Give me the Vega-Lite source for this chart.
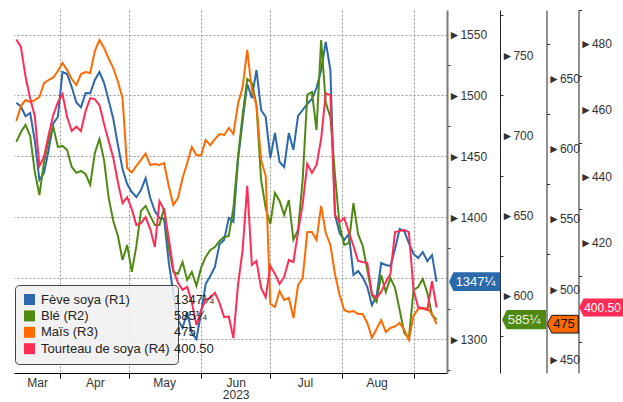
{
  "$schema": "https://vega.github.io/schema/vega-lite/v6.json",
  "width": 433,
  "height": 363,
  "autosize": {"type": "none"},
  "padding": {"left": 14, "top": 10, "right": 176, "bottom": 29},
  "background": "white",
  "config": {"view": {"stroke": null}},
  "datasets": {
    "prices": [
      {"d":"2023-03-13","soy":1494,"ble":696.0,"mais":619.9,"tourteau":481.1},
      {"d":"2023-03-15","soy":1491,"ble":702.2,"mais":630.5,"tourteau":478.9},
      {"d":"2023-03-17","soy":1483,"ble":706.6,"mais":634.8,"tourteau":469.9},
      {"d":"2023-03-19","soy":1485.6,"ble":699.7,"mais":633.4,"tourteau":463.4},
      {"d":"2023-03-21","soy":1462.9,"ble":677.3,"mais":634.8,"tourteau":458.1},
      {"d":"2023-03-23","soy":1430.7,"ble":662.9,"mais":637.0,"tourteau":443.1},
      {"d":"2023-03-25","soy":1436.6,"ble":683.5,"mais":646.9,"tourteau":445.8},
      {"d":"2023-03-27","soy":1455.3,"ble":697.2,"mais":649.1,"tourteau":452.4},
      {"d":"2023-03-29","soy":1477.0,"ble":705.3,"mais":650.9,"tourteau":458.4},
      {"d":"2023-03-31","soy":1482.5,"ble":692.9,"mais":655.5,"tourteau":462.3},
      {"d":"2023-04-02","soy":1519.2,"ble":693.5,"mais":661.2,"tourteau":464.7},
      {"d":"2023-04-04","soy":1517.6,"ble":691.0,"mais":656.2,"tourteau":457.8},
      {"d":"2023-04-06","soy":1506.9,"ble":680.4,"mais":649.8,"tourteau":453.6},
      {"d":"2023-04-08","soy":1494.2,"ble":676.7,"mais":645.5,"tourteau":454.9},
      {"d":"2023-04-10","soy":1490.2,"ble":677.9,"mais":653.3,"tourteau":453.6},
      {"d":"2023-04-12","soy":1502.0,"ble":676.0,"mais":654.8,"tourteau":459.6},
      {"d":"2023-04-14","soy":1501.8,"ble":669.2,"mais":654.1,"tourteau":463.5},
      {"d":"2023-04-16","soy":1512.7,"ble":689.1,"mais":669.7,"tourteau":463.2},
      {"d":"2023-04-18","soy":1519.2,"ble":697.8,"mais":677.6,"tourteau":461.4},
      {"d":"2023-04-20","soy":1510.4,"ble":684.7,"mais":671.9,"tourteau":455.7},
      {"d":"2023-04-22","soy":1495.8,"ble":661.1,"mais":664.4,"tourteau":450.6},
      {"d":"2023-04-24","soy":1480.7,"ble":646.7,"mais":657.6,"tourteau":445.5},
      {"d":"2023-04-26","soy":1459.4,"ble":637.4,"mais":648.0,"tourteau":438.2},
      {"d":"2023-04-28","soy":1439.7,"ble":622.4,"mais":636.2,"tourteau":431.9},
      {"d":"2023-04-30","soy":1427.4,"ble":631.8,"mais":586.3,"tourteau":433.7},
      {"d":"2023-05-02","soy":1420.8,"ble":615.0,"mais":583.1,"tourteau":430.1},
      {"d":"2023-05-04","soy":1416.7,"ble":631.2,"mais":587.8,"tourteau":425.3},
      {"d":"2023-05-06","soy":1422.5,"ble":653.0,"mais":592.1,"tourteau":425.9},
      {"d":"2023-05-08","soy":1432.3,"ble":656.1,"mais":596.7,"tourteau":427.7},
      {"d":"2023-05-10","soy":1415.9,"ble":649.9,"mais":588.5,"tourteau":424.1},
      {"d":"2023-05-12","soy":1405.2,"ble":644.2,"mais":589.2,"tourteau":418.7},
      {"d":"2023-05-14","soy":1399.5,"ble":644.2,"mais":588.5,"tourteau":432.5},
      {"d":"2023-05-16","soy":1398.7,"ble":654.8,"mais":589.9,"tourteau":429.8},
      {"d":"2023-05-18","soy":1363.4,"ble":630.5,"mais":573.5,"tourteau":421.4},
      {"d":"2023-05-20","soy":1338.0,"ble":615.0,"mais":560.0,"tourteau":411.8},
      {"d":"2023-05-22","soy":1315.8,"ble":613.7,"mais":565.0,"tourteau":407.9},
      {"d":"2023-05-24","soy":1309.3,"ble":621.2,"mais":579.2,"tourteau":405.8},
      {"d":"2023-05-26","soy":1322.4,"ble":610.0,"mais":589.9,"tourteau":406.7},
      {"d":"2023-05-28","soy":1305.2,"ble":615.0,"mais":601.3,"tourteau":402.1},
      {"d":"2023-05-30","soy":1300.3,"ble":606.2,"mais":595.6,"tourteau":395.2},
      {"d":"2023-06-01","soy":1321.6,"ble":617.5,"mais":595.2,"tourteau":399.7},
      {"d":"2023-06-03","soy":1345.4,"ble":624.3,"mais":606.3,"tourteau":402.8},
      {"d":"2023-06-05","soy":1351.9,"ble":628.7,"mais":602.7,"tourteau":403.4},
      {"d":"2023-06-07","soy":1359.3,"ble":630.5,"mais":607.0,"tourteau":404.9},
      {"d":"2023-06-09","soy":1378.2,"ble":634.3,"mais":610.6,"tourteau":401.9},
      {"d":"2023-06-11","soy":1381.5,"ble":636.8,"mais":609.9,"tourteau":397.6},
      {"d":"2023-06-13","soy":1399.5,"ble":637.4,"mais":614.9,"tourteau":397.8},
      {"d":"2023-06-15","soy":1396.2,"ble":654.8,"mais":610.6,"tourteau":391.3},
      {"d":"2023-06-17","soy":1447.1,"ble":686.6,"mais":632.0,"tourteau":407.3},
      {"d":"2023-06-19","soy":1479.1,"ble":712.8,"mais":644.1,"tourteau":417.8},
      {"d":"2023-06-21","soy":1509.4,"ble":735.2,"mais":670.5,"tourteau":437.1},
      {"d":"2023-06-23","soy":1497.9,"ble":732.7,"mais":641.9,"tourteau":413.3},
      {"d":"2023-06-25","soy":1520.9,"ble":719.0,"mais":631.3,"tourteau":414.5},
      {"d":"2023-06-27","soy":1488.1,"ble":672.3,"mais":592.1,"tourteau":406.4},
      {"d":"2023-06-29","soy":1482.3,"ble":654.8,"mais":580.6,"tourteau":403.6},
      {"d":"2023-07-01","soy":1448.7,"ble":644.9,"mais":489.4,"tourteau":413.0},
      {"d":"2023-07-03","soy":1469.2,"ble":664.2,"mais":487.3,"tourteau":410.6},
      {"d":"2023-07-05","soy":1445.4,"ble":659.2,"mais":498.7,"tourteau":407.6},
      {"d":"2023-07-07","soy":1441.3,"ble":650.5,"mais":492.3,"tourteau":409.7},
      {"d":"2023-07-09","soy":1469.2,"ble":659.8,"mais":493.7,"tourteau":414.8},
      {"d":"2023-07-11","soy":1455.3,"ble":634.9,"mais":479.4,"tourteau":414.2},
      {"d":"2023-07-13","soy":1483.2,"ble":641.1,"mais":502.9,"tourteau":423.2},
      {"d":"2023-07-15","soy":1488.1,"ble":672.3,"mais":507.9,"tourteau":431.6},
      {"d":"2023-07-17","soy":1493.0,"ble":725.3,"mais":540.7,"tourteau":443.7},
      {"d":"2023-07-19","soy":1497.1,"ble":727.1,"mais":540.7,"tourteau":441.0},
      {"d":"2023-07-21","soy":1506.1,"ble":703.4,"mais":535.0,"tourteau":443.4},
      {"d":"2023-07-23","soy":1520.9,"ble":759.5,"mais":559.3,"tourteau":451.2},
      {"d":"2023-07-25","soy":1543.9,"ble":720.3,"mais":540.0,"tourteau":465.0},
      {"d":"2023-07-27","soy":1520.9,"ble":711.5,"mais":531.5,"tourteau":464.4},
      {"d":"2023-07-29","soy":1402.0,"ble":675.4,"mais":510.8,"tourteau":428.3},
      {"d":"2023-07-31","soy":1387.2,"ble":643.6,"mais":495.8,"tourteau":426.2},
      {"d":"2023-08-02","soy":1381.5,"ble":631.8,"mais":485.1,"tourteau":427.4},
      {"d":"2023-08-04","soy":1386.4,"ble":633.0,"mais":483.7,"tourteau":423.2},
      {"d":"2023-08-06","soy":1352.7,"ble":657.9,"mais":484.4,"tourteau":419.0},
      {"d":"2023-08-08","soy":1356.0,"ble":638.6,"mais":482.3,"tourteau":414.5},
      {"d":"2023-08-10","soy":1351.1,"ble":631.2,"mais":482.3,"tourteau":414.2},
      {"d":"2023-08-12","soy":1342.9,"ble":616.2,"mais":475.9,"tourteau":413.9},
      {"d":"2023-08-14","soy":1328.1,"ble":600.6,"mais":465.2,"tourteau":404.6},
      {"d":"2023-08-16","soy":1335.5,"ble":596.3,"mais":471.6,"tourteau":403.4},
      {"d":"2023-08-18","soy":1362.6,"ble":613.1,"mais":478.0,"tourteau":405.2},
      {"d":"2023-08-20","soy":1361.0,"ble":602.5,"mais":469.4,"tourteau":408.2},
      {"d":"2023-08-22","soy":1360.1,"ble":611.2,"mais":472.3,"tourteau":410.6},
      {"d":"2023-08-24","soy":1374.1,"ble":605.0,"mais":473.4,"tourteau":423.2},
      {"d":"2023-08-26","soy":1390.5,"ble":591.3,"mais":475.9,"tourteau":423.5},
      {"d":"2023-08-28","soy":1388.8,"ble":576.9,"mais":470.9,"tourteau":423.8},
      {"d":"2023-08-30","soy":1379.0,"ble":573.8,"mais":463.8,"tourteau":423.2},
      {"d":"2023-09-01","soy":1370.0,"ble":603.7,"mais":480.9,"tourteau":405.8},
      {"d":"2023-09-03","soy":1366.7,"ble":605.6,"mais":485.8,"tourteau":400.6},
      {"d":"2023-09-05","soy":1371.6,"ble":610.6,"mais":486.3,"tourteau":400.3},
      {"d":"2023-09-07","soy":1364.2,"ble":601.9,"mais":486.2,"tourteau":399.7},
      {"d":"2023-09-09","soy":1369.1,"ble":588.2,"mais":482.3,"tourteau":408.4},
      {"d":"2023-09-11","soy":1347.25,"ble":585.25,"mais":475,"tourteau":400.5}
    ],
    "tags": [
      {"name":"Fève soya (R1)","t":"1347¼","soy":1347.25},
      {"name":"Blé (R2)","t":"585¼","ble":585.25},
      {"name":"Maïs (R3)","t":"475","mais":475},
      {"name":"Tourteau de soya (R4)","t":"400.50","tourteau":400.5}
    ]
  },
  "encoding": {
    "x": {
      "field": "d", "type": "temporal", "title": null,
      "scale": {"domain": [{"year":2023,"month":3,"date":12},{"year":2023,"month":9,"date":15,"hours":12}]},
      "axis": {
        "values": [{"year":2023,"month":3,"date":22},{"year":2023,"month":4,"date":1},{"year":2023,"month":4,"date":16},{"year":2023,"month":5,"date":1},{"year":2023,"month":5,"date":16},{"year":2023,"month":6,"date":1},{"year":2023,"month":6,"date":16},{"year":2023,"month":7,"date":1},{"year":2023,"month":7,"date":16},{"year":2023,"month":8,"date":1},{"year":2023,"month":8,"date":16},{"year":2023,"month":9,"date":1}],
        "grid": true, "gridColor": "#999", "gridDash": [2, 2], "gridWidth": 1,
        "gridOpacity": {"condition": {"test": "date(datum.value) == 1", "value": 1}, "value": 0},
        "tickOpacity": {"condition": {"test": "date(datum.value) == 1", "value": 1}, "value": 0},
        "tickColor": "#000", "tickSize": 5, "domainColor": "#000",
        "labelExpr": "date(datum.value) == 1 ? '' : (month(datum.value) == 5 ? ['Jun', '2023'] : timeFormat(datum.value, '%b'))",
        "labelFont": "Liberation Sans", "labelFontSize": 12, "labelColor": "#333",
        "labelOverlap": false, "labelFlush": false, "labelPadding": -1, "labelLineHeight": 12.5
      }
    }
  },
  "layer": [
    {
      "encoding": {
        "y": {"field": "soy", "type": "quantitative", "title": null,
          "scale": {"domain": [1272.4, 1570.1], "nice": false, "zero": false},
          "axis": {"orient": "right", "offset": 0, "values": [1275,1300,1325,1350,1375,1400,1425,1450,1475,1500,1525,1550],
            "format": "d", "grid": true, "gridColor": "#999", "gridDash": [2, 2],
            "gridOpacity": {"condition": {"test": "datum.value % 50 == 0", "value": 1}, "value": 0},
            "domainColor": "#7a7a7a", "domainWidth": 2, "tickColor": "#333", "tickSize": 3,
            "tickOpacity": {"condition": {"test": "datum.value % 50 == 0", "value": 0}, "value": 1},
            "labelExpr": "datum.value % 50 == 0 && datum.value != 1350 ? '►' + datum.label : ''",
            "labelPadding": -2, "labelFont": "Liberation Sans", "labelFontSize": 12, "labelColor": "#333",
            "labelOverlap": false, "labelFlush": false}
        }
      },
      "layer": [
        {
          "data": {"name": "prices"},
          "mark": {"type": "line", "color": "#2c69ac", "strokeWidth": 2}
        },
        {
          "data": {"name": "tags"},
          "transform": [{"filter": "isValid(datum.soy)"}],
          "mark": {"type": "point", "filled": true, "opacity": 1, "size": 2632, "xOffset": 27.7, "strokeWidth": 0},
          "encoding": {
            "x": {"value": "width"},
            "color": {"field": "name", "type": "nominal",
              "scale": {"domain": ["Fève soya (R1)", "Blé (R2)", "Maïs (R3)", "Tourteau de soya (R4)"], "range": ["#2c69ac", "#4e8a12", "#ff6a00", "#ff2d55"]},
              "legend": {"orient": "none", "legendX": 1, "legendY": 275, "title": null, "symbolType": "square", "symbolSize": 121, "symbolStrokeWidth": 0,
                "labelFont": "Liberation Sans", "labelFontSize": 13, "labelColor": "#222", "labelOffset": 5, "labelLimit": 400,
                "padding": 8, "rowPadding": 2.4, "fillColor": "rgba(240,240,240,0.85)", "strokeColor": "#444", "cornerRadius": 4, "zindex": 1,
                "labelExpr": "datum.label == 'Tourteau de soya (R4)' ? datum.label + '\u00a0\u00a0\u00a0\u00a0\u00a0\u00a0\u00a0\u00a0\u00a0\u00a0\u00a0' : datum.label"}
            },
            "shape": {"field": "t", "type": "nominal",
              "scale": {"domain": ["1347¼", "585¼", "475", "400.50"],
                "range": ["M-1,0L-0.832,-0.365L1,-0.365L1,0.365L-0.832,0.365Z", "M-1,0L-0.786,-0.439L1,-0.439L1,0.439L-0.786,0.439Z", "M-1,0L-0.71,-0.571L1,-0.571L1,0.571L-0.71,0.571Z", "M-1,0L-0.8125,-0.375L1,-0.375L1,0.375L-0.8125,0.375Z"]},
              "legend": {"orient": "none", "legendX": 134, "legendY": 275, "title": null, "symbolOpacity": 0, "symbolStrokeWidth": 0, "symbolSize": 121,
                "labelFont": "Liberation Sans", "labelFontSize": 13, "labelColor": "#222", "labelOffset": 5, "labelLimit": 200,
                "padding": 8, "rowPadding": 2.4, "zindex": 2}
            }
          }
        },
        {
          "data": {"name": "tags"},
          "transform": [{"filter": "isValid(datum.soy)"}],
          "mark": {"type": "text", "xOffset": 28.5, "font": "Liberation Sans", "fontSize": 13, "color": "#ffffff", "align": "center", "baseline": "middle"},
          "encoding": {"x": {"value": "width"}, "text": {"field": "t"}}
        }
      ]
    },
    {
      "encoding": {
        "y": {"field": "ble", "type": "quantitative", "title": null,
          "scale": {"domain": [552.0, 778.2], "nice": false, "zero": false},
          "axis": {"orient": "right", "offset": 53, "values": [575,600,625,650,675,700,725,750,775], "format": "d", "grid": false,
            "domainColor": "#222", "domainWidth": 1, "tickColor": "#333", "tickSize": 3,
            "tickOpacity": {"condition": {"test": "datum.value % 50 == 0", "value": 0}, "value": 1},
            "labelExpr": "datum.value % 50 == 0 ? '►' + datum.label : ''",
            "labelPadding": -2, "labelFont": "Liberation Sans", "labelFontSize": 12, "labelColor": "#333",
            "labelOverlap": false, "labelFlush": false}
        }
      },
      "layer": [
        {
          "data": {"name": "prices"},
          "mark": {"type": "line", "color": "#4e8a12", "strokeWidth": 2}
        },
        {
          "data": {"name": "tags"},
          "transform": [{"filter": "isValid(datum.ble)"}],
          "mark": {"type": "point", "filled": true, "opacity": 1, "size": 1936, "xOffset": 77, "strokeWidth": 0},
          "encoding": {
            "x": {"value": "width"},
            "color": {"field": "name", "type": "nominal"},
            "shape": {"field": "t", "type": "nominal"}
          }
        },
        {
          "data": {"name": "tags"},
          "transform": [{"filter": "isValid(datum.ble)"}],
          "mark": {"type": "text", "xOffset": 77, "font": "Liberation Sans", "fontSize": 13, "color": "#eef3e4", "align": "center", "baseline": "middle"},
          "encoding": {"x": {"value": "width"}, "text": {"field": "t"}}
        }
      ]
    },
    {
      "encoding": {
        "y": {"field": "mais", "type": "quantitative", "title": null,
          "scale": {"domain": [440.2, 699.0], "nice": false, "zero": false},
          "axis": {"orient": "right", "offset": 99.5, "values": [450,475,500,525,550,575,600,625,650,675], "format": "d", "grid": false,
            "domainColor": "#222", "domainWidth": 1, "tickColor": "#333", "tickSize": 3,
            "tickOpacity": {"condition": {"test": "datum.value % 50 == 0", "value": 0}, "value": 1},
            "labelExpr": "datum.value % 50 == 0 ? '►' + datum.label : ''",
            "labelPadding": -2, "labelFont": "Liberation Sans", "labelFontSize": 12, "labelColor": "#333",
            "labelOverlap": false, "labelFlush": false}
        }
      },
      "layer": [
        {
          "data": {"name": "prices"},
          "mark": {"type": "line", "color": "#ff6a00", "strokeWidth": 2}
        },
        {
          "data": {"name": "tags"},
          "transform": [{"filter": "isValid(datum.mais)"}],
          "mark": {"type": "point", "filled": true, "opacity": 1, "size": 961, "xOffset": 115.8, "stroke": "#111", "strokeWidth": 1},
          "encoding": {
            "x": {"value": "width"},
            "color": {"field": "name", "type": "nominal"},
            "shape": {"field": "t", "type": "nominal"}
          }
        },
        {
          "data": {"name": "tags"},
          "transform": [{"filter": "isValid(datum.mais)"}],
          "mark": {"type": "text", "xOffset": 117, "font": "Liberation Sans", "fontSize": 13, "color": "#111111", "align": "center", "baseline": "middle"},
          "encoding": {"x": {"value": "width"}, "text": {"field": "t"}}
        }
      ]
    },
    {
      "encoding": {
        "y": {"field": "tourteau", "type": "quantitative", "title": null,
          "scale": {"domain": [380.8, 490.0], "nice": false, "zero": false},
          "axis": {"orient": "right", "offset": 131.5, "values": [390,400,410,420,430,440,450,460,470,480,490], "format": "d", "grid": false,
            "domainColor": "#222", "domainWidth": 1, "tickColor": "#333", "tickSize": 3,
            "tickOpacity": {"condition": {"test": "datum.value % 20 == 0", "value": 0}, "value": 1},
            "labelExpr": "datum.value % 20 == 0 && datum.value != 400 ? '►' + datum.label : ''",
            "labelPadding": -2, "labelFont": "Liberation Sans", "labelFontSize": 12, "labelColor": "#333",
            "labelOverlap": false, "labelFlush": false}
        }
      },
      "layer": [
        {
          "data": {"name": "prices"},
          "mark": {"type": "line", "color": "#ff2d55", "strokeWidth": 2}
        },
        {
          "data": {"name": "tags"},
          "transform": [{"filter": "isValid(datum.tourteau)"}],
          "mark": {"type": "point", "filled": true, "opacity": 1, "size": 2304, "xOffset": 156, "strokeWidth": 0},
          "encoding": {
            "x": {"value": "width"},
            "color": {"field": "name", "type": "nominal"},
            "shape": {"field": "t", "type": "nominal"}
          }
        },
        {
          "data": {"name": "tags"},
          "transform": [{"filter": "isValid(datum.tourteau)"}],
          "mark": {"type": "text", "xOffset": 155.5, "font": "Liberation Sans", "fontSize": 12, "color": "#ffffff", "align": "center", "baseline": "middle"},
          "encoding": {"x": {"value": "width"}, "text": {"field": "t"}}
        }
      ]
    }
  ],
  "resolve": {"scale": {"y": "independent"}, "axis": {"y": "independent"}}
}
